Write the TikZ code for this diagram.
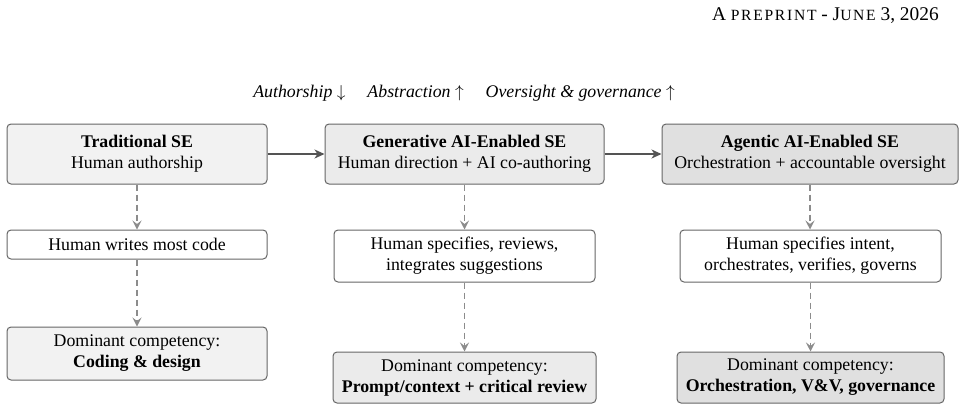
\documentclass[tikz,border=0pt]{standalone}
\usepackage{fontspec}
\setmainfont{Liberation Serif}
\usetikzlibrary{arrows.meta}
\newcommand{\fakesc}[1]{{\fontsize{15.6}{17}\selectfont\addfontfeature{LetterSpace=11}#1}}
\begin{document}
\begin{tikzpicture}[x=1pt,y=-1pt,
  every node/.style={font=\fontsize{17.8}{21}\selectfont},
  box/.style={draw=black!60, line width=1pt, rounded corners=4pt, align=center, inner sep=0pt},
  mainarrow/.style={draw=black!67, line width=1.6pt, -{Stealth[length=10pt,width=9pt,inset=3pt]}},
  dasharrow/.style={draw=black!45, line width=1.3pt, dash pattern=on 6pt off 4pt, -{Stealth[length=9pt,width=9pt,inset=3.5pt]}}
]
\useasboundingbox (0,0) rectangle (966,410);
% header
\node[anchor=base east, inner sep=0pt, font=\fontsize{19.4}{22}\selectfont] (hdr) at (939,20)
  {A \fakesc{PREPRINT} - J\fakesc{UNE} 3, 2026};
% trend label
\node[anchor=base, inner sep=0pt] (trend) at (464,97)
  {\textit{Authorship} $\downarrow$\hspace{22pt}\textit{Abstraction} $\uparrow$\hspace{22pt}\textit{Oversight \& governance} $\uparrow$};
% top row
\node[box, fill=black!5, minimum width=260pt, minimum height=60pt] (t1) at (137,154)
  {\textbf{Traditional SE}\\Human authorship};
\node[box, fill=black!8, minimum width=279pt, minimum height=60pt] (t2) at (464.5,154)
  {\textbf{Generative AI-Enabled SE}\\Human direction + AI co-authoring};
\node[box, fill=black!12, minimum width=296pt, minimum height=60pt] (t3) at (810,154)
  {\textbf{Agentic AI-Enabled SE}\\Orchestration + accountable oversight};
% middle row
\node[box, fill=white, minimum width=260pt, minimum height=29pt] (m1) at (137,244.5)
  {Human writes most code};
\node[box, fill=white, minimum width=261pt, minimum height=52pt] (m2) at (464.5,256)
  {Human specifies, reviews,\\integrates suggestions};
\node[box, fill=white, minimum width=261pt, minimum height=52pt] (m3) at (810.5,256)
  {Human specifies intent,\\orchestrates, verifies, governs};
% bottom row
\node[box, fill=black!5, minimum width=260pt, minimum height=53pt] (b1) at (137,353.5)
  {Dominant competency:\\\textbf{Coding \& design}};
\node[box, fill=black!8, minimum width=263pt, minimum height=51pt] (b2) at (464.5,377.5)
  {Dominant competency:\\\textbf{Prompt/context + critical review}};
\node[box, fill=black!12, minimum width=267pt, minimum height=51pt] (b3) at (810.5,377.5)
  {Dominant competency:\\\textbf{Orchestration, V\&V, governance}};
% connectors
\draw[mainarrow] (t1) -- (t2);
\draw[mainarrow] (t2) -- (t3);
\draw[dasharrow] (t1.south) -- (m1.north);
\draw[dasharrow] (m1.south) -- (b1.north);
\draw[dasharrow] (t2.south) -- (m2.north);
\draw[dasharrow] (m2.south) -- (b2.north);
\draw[dasharrow] (t3.south) -- (t3.south |- m3.north);
\draw[dasharrow] (m3.south) -- (m3.south |- b3.north);
\end{tikzpicture}
\end{document}
